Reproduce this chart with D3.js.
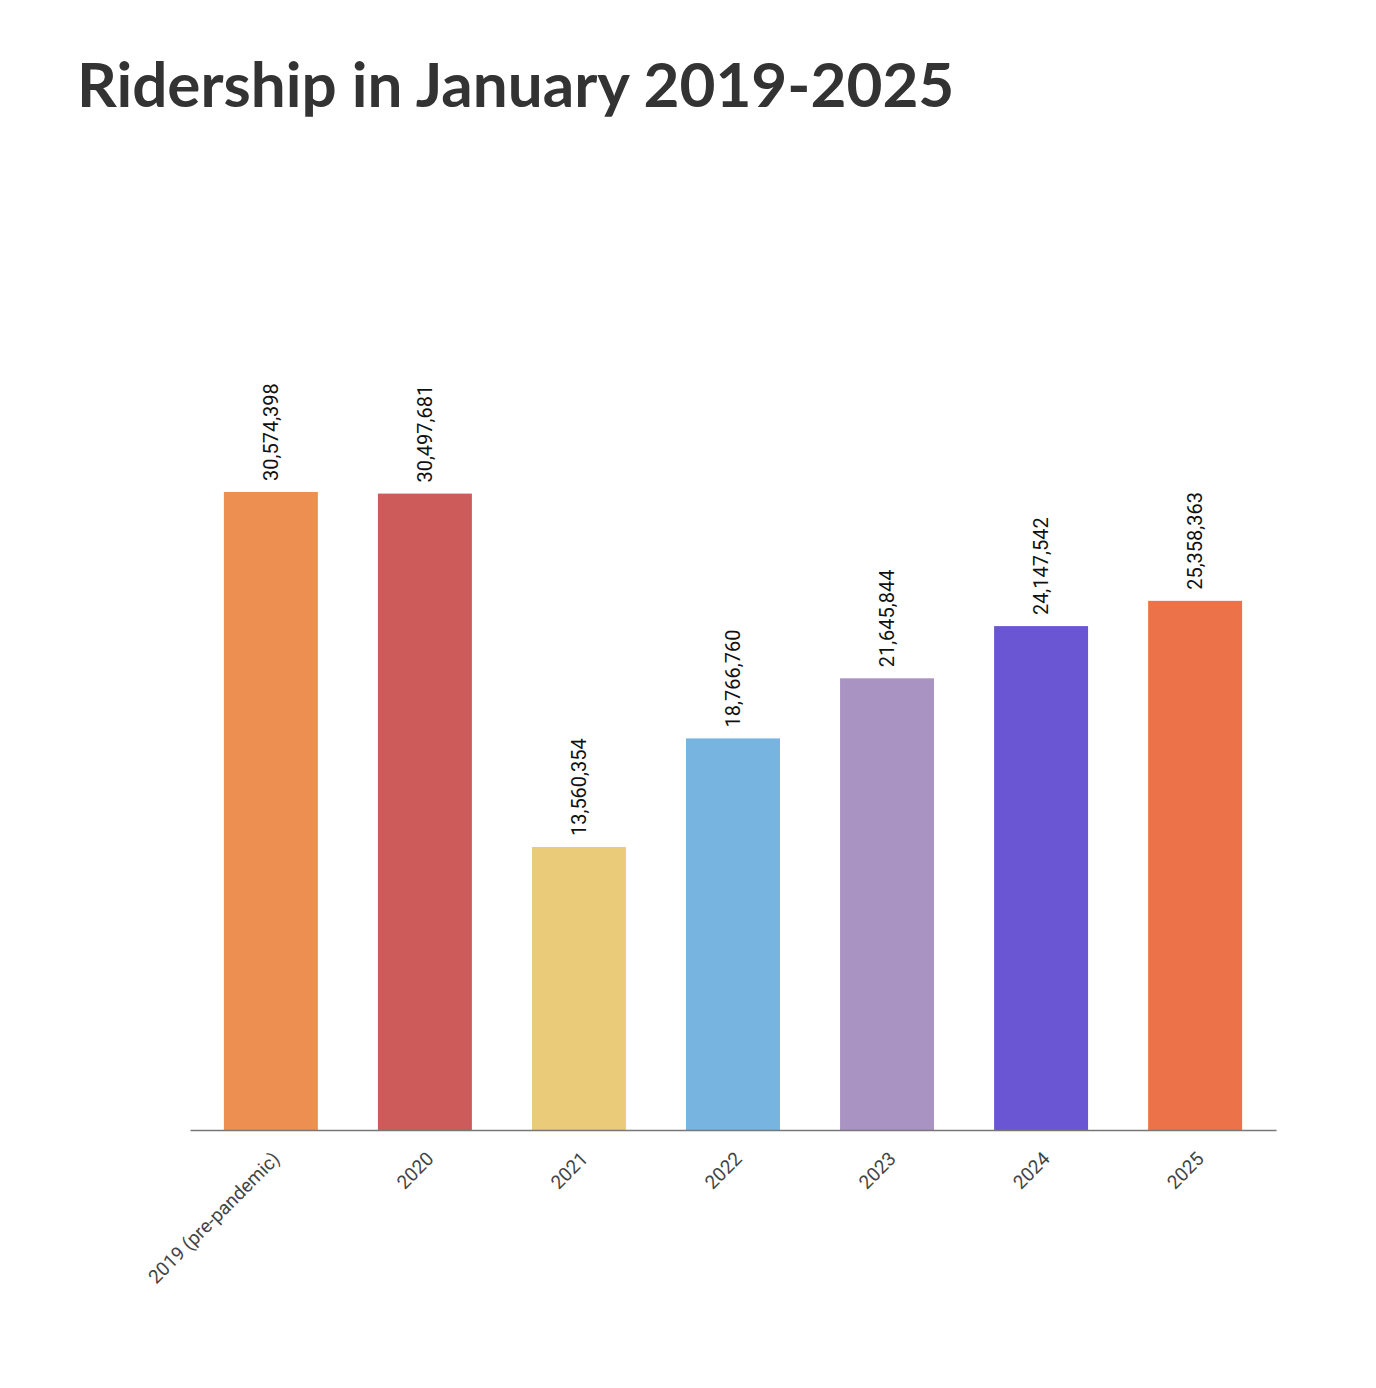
<!DOCTYPE html>
<html>
<head>
<meta charset="utf-8">
<script src="https://cdn.jsdelivr.net/npm/d3@7"></script>
<style>
  body { margin: 0; background: #fff; }
</style>
</head>
<body>
<div id="chart"></div>
<script>
// Data
var years = ["2019 (pre-pandemic)", "2020", "2021", "2022", "2023", "2024", "2025"];
var riders = [30574398, 30497681, 13560354, 18766760, 21645844, 24147542, 25358363];
var colors = ["#EE8F52", "#CC5B5A", "#EACB7A", "#77B4E0", "#A993C3", "#6A56D3", "#EC7349"];

var width = 1376, height = 1388;
var baseline = 1130, left = 190, right = 1276;

var svg = d3.select("#chart").append("svg")
  .attr("width", width)
  .attr("height", height);

svg.append("text")
  .attr("x", 77).attr("y", 107)
  .attr("font-family", "Lato, 'Open Sans', sans-serif")
  .attr("font-weight", 700)
  .attr("font-size", 62)
  .attr("fill", "#333")
  .text("Ridership in January 2019-2025");

var x = d3.scaleBand()
  .domain(years)
  .range([left, right])
  .paddingInner(0.39)
  .paddingOuter(0.22);

// 30,574,398 -> top at y=492
var y = d3.scaleLinear()
  .domain([0, 30574398])
  .range([baseline, 492]);

svg.selectAll("rect.bar")
  .data(years)
  .enter().append("rect")
  .attr("class", "bar")
  .attr("x", function (d) { return x(d); })
  .attr("width", x.bandwidth())
  .attr("y", function (d, i) { return y(riders[i]); })
  .attr("height", function (d, i) { return baseline - y(riders[i]); })
  .attr("fill", function (d, i) { return colors[i]; });

// value labels
var fmt = d3.format(",");
svg.selectAll("text.val")
  .data(years)
  .enter().append("text")
  .attr("class", "val")
  .attr("transform", function (d, i) {
    return "translate(" + (x(d) + x.bandwidth() / 2 + 7) + "," + (y(riders[i]) - 11) + ") rotate(-90)";
  })
  .attr("font-family", "Roboto, sans-serif")
  .attr("font-size", 20)
  .attr("fill", "#111")
  .text(function (d, i) { return fmt(riders[i]); });

// axis
var axis = svg.append("g")
  .attr("transform", "translate(0," + baseline + ")")
  .call(d3.axisBottom(x).tickSize(0).tickSizeOuter(0));
axis.select(".domain").attr("stroke", "#777").attr("stroke-width", 1.5);
axis.selectAll("text")
  .attr("font-family", "Roboto, sans-serif")
  .attr("font-size", 19)
  .attr("fill", "#444")
  .attr("text-anchor", "end")
  .attr("dy", null)
  .attr("y", 0)
  .attr("transform", "translate(10,30) rotate(-45)");
</script>
</body>
</html>
